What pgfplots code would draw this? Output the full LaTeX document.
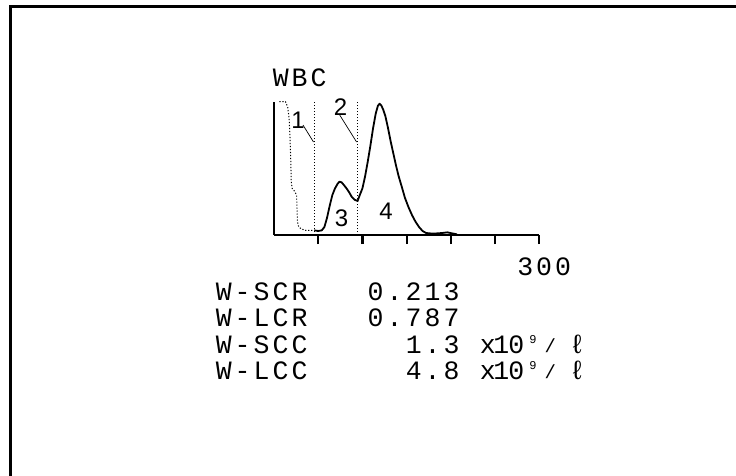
\documentclass[border=0pt]{standalone}
\usepackage{pgfplots}
\pgfplotsset{compat=1.18}
\usepackage{fontspec}
\setmainfont{Liberation Sans}
\newfontfamily\printfont{Liberation Mono}
% fixed character cells of the printer read-out
\newlength\cell \setlength\cell{19bp}
\makeatletter
\def\grid#1{\grid@a#1\relax}
\def\grid@a#1{\ifx\relax#1\else\ifx_#1\hspace*{\cell}\else\makebox[\cell][c]{#1}\fi\expandafter\grid@a\fi}
\makeatother
\newcommand\prt{\printfont\fontsize{26.5bp}{26.5bp}\selectfont}
\newcommand\zone{\fontsize{24bp}{24bp}\selectfont}
% unit string x10^9/l, set tighter than the grid
\newcommand\unit{%
  \makebox[13.25bp][c]{x}%
  \makebox[13.75bp][c]{1}%
  \makebox[16.25bp][c]{0}%
  \makebox[17.25bp][c]{\raisebox{10bp}{\fontsize{12bp}{12bp}\selectfont 9}}%
  \makebox[17bp][c]{\raisebox{1bp}{\fontsize{19bp}{19bp}\selectfont /}}%
  \makebox[37bp][c]{ℓ}}

\begin{document}
\begin{tikzpicture}
\useasboundingbox (0,0) rectangle (736bp,-476bp);
\draw[line width=2.4bp] (10.5bp,-476bp) -- (10.5bp,-6.5bp) -- (736bp,-6.5bp);

\begin{axis}[
  at={(274bp,-235bp)}, anchor=south west,
  scale only axis, width=265.3bp, height=133.3bp,
  xmin=0, xmax=300, ymin=0, ymax=100,
  axis lines=left, axis line style={-, line width=2.2bp},
  xtick={50,100,...,300}, xticklabel=\empty, ytick=\empty,
  tick align=outside, major tick length=9bp,
  x tick style={black, line width=2.2bp},
  clip=false,
]
% region 1 : below the lower discriminator
\addplot[black, line width=1bp, dash pattern=on 1.2bp off 1.8bp] coordinates {
  (6,100) (13,100) (15.5,96) (17,88) (18,75) (19,55) (19.5,40) (20.5,35)
  (23,33) (25.5,30) (26,20) (26.5,10) (28,6) (31,4.5) (36,3.5) (42,3.5) (45.6,3.5)
};
% discriminator lines
\addplot[black, line width=1bp, dash pattern=on 1.2bp off 1.8bp] coordinates {(45.6,0) (45.6,100)};
\addplot[black, line width=1bp, dash pattern=on 1.2bp off 1.8bp] coordinates {(94.5,0) (94.5,100)};
% WBC size distribution
\addplot[black, line width=1.8bp, line join=round] coordinates {
  (45.6,3.5) (50,3) (54,3.5) (57,6) (60,13) (63,22) (66,30) (69,35) (72,38.5)
  (74,40) (76.5,39.5) (79,37.5) (82,35) (85,32) (88,28.5) (91,26.5) (94.5,25.5)
  (97,30) (100,35) (103,44) (106,55) (109,67) (112,80) (115,91) (117.5,97)
  (119.5,98.5) (121.5,97) (123.5,94) (126,89) (129,80) (132,70) (135,61)
  (138,52) (141,44) (145,35) (148,28) (152,21) (156,15) (160,10) (164,6)
  (168,3) (172,1.5) (180,1) (190,1.5) (196,2) (203,1) (207,0.5)
};
% leaders to the discriminators
\draw[line width=0.7bp] (axis cs:32.8,82.5) -- (axis cs:44.7,69.75);
\draw[line width=0.7bp] (axis cs:73.6,90.75) -- (axis cs:93.4,69.75);
\end{axis}

% zone numbers
\node[anchor=base, inner sep=0, font=\zone] at (298bp,-128bp) {1};
\node[anchor=base, inner sep=0, font=\zone] at (340.5bp,-115bp) {2};
\node[anchor=base, inner sep=0, font=\zone] at (341.5bp,-226bp) {3};
\node[anchor=base, inner sep=0, font=\zone] at (386bp,-219bp) {4};

% printer read-out
\node[anchor=base west, inner sep=0, font=\prt] at (271bp,-86.5bp) {\grid{WBC}};
\node[anchor=base west, inner sep=0, font=\prt] at (515.5bp,-275bp) {\grid{300}};
\node[anchor=base west, inner sep=0, font=\prt] at (214bp,-300.5bp) {\grid{W-SCR___0.213}};
\node[anchor=base west, inner sep=0, font=\prt] at (214bp,-326.5bp) {\grid{W-LCR___0.787}};
\node[anchor=base west, inner sep=0, font=\prt] at (214bp,-353bp) {\grid{W-SCC_____1.3}};
\node[anchor=base west, inner sep=0, font=\prt] at (214bp,-379.5bp) {\grid{W-LCC_____4.8}};
\node[anchor=base west, inner sep=0, font=\prt] at (481bp,-353bp) {\unit};
\node[anchor=base west, inner sep=0, font=\prt] at (481bp,-379.5bp) {\unit};
\end{tikzpicture}
\end{document}
